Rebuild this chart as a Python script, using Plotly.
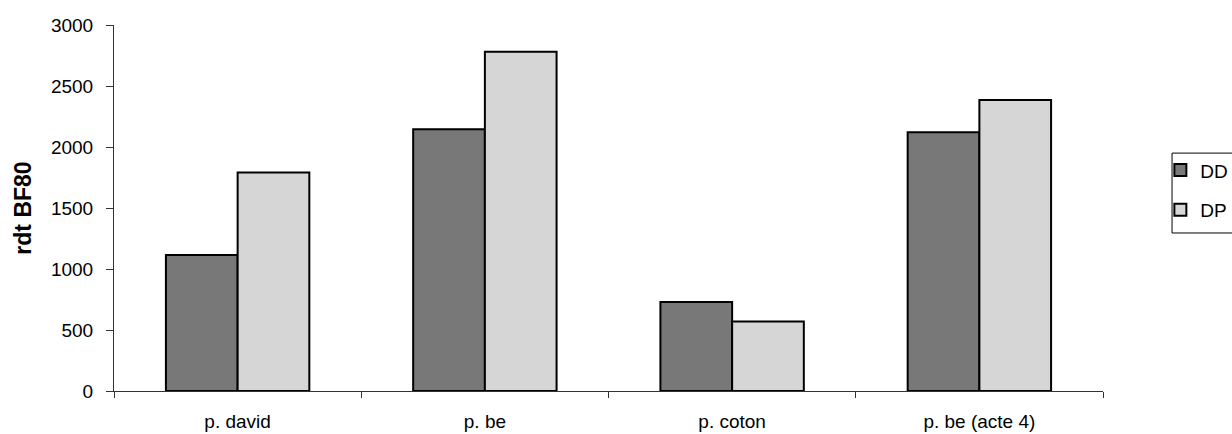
import plotly.graph_objects as go

# Yield per plot type, two treatments
categories = ["p. david", "p. be", "p. coton", "p. be (acte 4)"]
dd_values = [1115, 2145, 730, 2120]
dp_values = [1790, 2780, 570, 2385]
y_ticks = [0, 500, 1000, 1500, 2000, 2500, 3000]

FONT = "Liberation Sans, Arial, Helvetica, sans-serif"

fig = go.Figure()
fig.add_trace(go.Bar(
    x=categories, y=dd_values, name="DD", legendgroup="dd",
    marker=dict(color="#787878", line=dict(color="#000000", width=2)),
))
fig.add_trace(go.Bar(
    x=categories, y=dp_values, name="DP", legendgroup="dp",
    marker=dict(color="#d6d6d6", line=dict(color="#000000", width=2)),
))

fig.update_layout(
    width=1232, height=434,
    margin=dict(l=114, r=129, t=25, b=43, autoexpand=False),
    paper_bgcolor="white", plot_bgcolor="white",
    font=dict(family=FONT, size=19, color="#000000"),
    barmode="group", bargap=0.42, bargroupgap=0,
    showlegend=True,
    legend=dict(
        x=1.058, xanchor="left", y=0.655, yanchor="top",
        borderwidth=0, bgcolor="rgba(0,0,0,0)",
        font=dict(size=19), tracegroupgap=12, traceorder="grouped",
        itemwidth=30,
    ),
    # legend frame
    shapes=[dict(
        type="rect", xref="paper", yref="paper",
        x0=1.0698, x1=1.135, y0=0.4317, y1=0.650,
        line=dict(color="#000000", width=1), fillcolor="rgba(0,0,0,0)",
        layer="below",
    )],
)

fig.update_xaxes(
    showline=True, linecolor="#333333", linewidth=1,
    tickson="boundaries", ticks="outside", ticklen=6, tickcolor="#333333",
    showgrid=False, ticklabelstandoff=13,
)
fig.update_yaxes(
    range=[0, 3000], tickvals=y_ticks,
    showline=True, linecolor="#333333", linewidth=1,
    ticks="outside", ticklen=7, tickcolor="#333333",
    showgrid=False, zeroline=False, ticklabelstandoff=9,
    title=dict(text="<b>rdt BF80</b>", standoff=12, font=dict(size=23)),
)

fig.write_html("out.html")
